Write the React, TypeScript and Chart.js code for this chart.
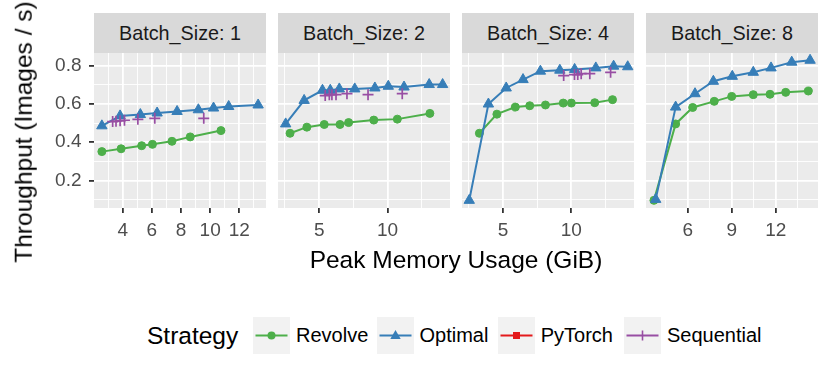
import React, { useEffect, useRef } from "react";
import { Chart, registerables } from "chart.js";
Chart.register(...registerables);

const FONT = '"Liberation Sans", Arial, Helvetica, sans-serif';

// ---------- data ----------
const panelTitles = ["Batch_Size: 1", "Batch_Size: 2", "Batch_Size: 4", "Batch_Size: 8"];
const strategyNames = ["Revolve", "Optimal", "PyTorch", "Sequential"];
const strategyColors = ["#4DAF4A", "#377EB8", "#E41A1C", "#984EA3"];

// Batch size 1
const revolveX1 = [2.57, 3.89, 5.3, 6.04, 7.38, 8.63, 10.74];
const revolveY1 = [0.351, 0.366, 0.382, 0.389, 0.405, 0.428, 0.461];
const optimalX1 = [2.57, 3.82, 5.21, 6.36, 7.73, 9.19, 10.23, 11.27, 13.29];
const optimalY1 = [0.486, 0.538, 0.545, 0.553, 0.561, 0.57, 0.579, 0.587, 0.595];
const sequentialX1 = [3.31, 3.54, 3.82, 4.12, 5.04, 6.2, 9.56];
const sequentialY1 = [0.508, 0.51, 0.512, 0.515, 0.52, 0.525, 0.525];

// Batch size 2
const revolveX2 = [2.87, 4.1, 5.37, 6.52, 7.15, 8.99, 10.71, 13.09];
const revolveY2 = [0.447, 0.479, 0.493, 0.493, 0.503, 0.516, 0.521, 0.551];
const optimalX2 = [2.55, 3.9, 5.24, 5.81, 6.47, 7.6, 9.07, 10.05, 11.2, 13.04, 14.02];
const optimalY2 = [0.496, 0.619, 0.672, 0.672, 0.679, 0.679, 0.684, 0.693, 0.689, 0.702, 0.702];
const sequentialX2 = [5.44, 5.74, 5.93, 6.23, 7.03, 8.57, 11.07];
const sequentialY2 = [0.644, 0.649, 0.649, 0.649, 0.654, 0.649, 0.654];

// Batch size 4
const revolveX4 = [3.28, 4.56, 5.91, 6.96, 8.11, 9.41, 10.0, 11.71, 13.01];
const revolveY4 = [0.447, 0.547, 0.584, 0.591, 0.595, 0.605, 0.605, 0.607, 0.623];
const optimalX4 = [2.54, 3.94, 5.24, 6.47, 7.74, 9.16, 10.24, 11.79, 13.09, 14.12];
const optimalY4 = [0.096, 0.6, 0.684, 0.728, 0.772, 0.777, 0.781, 0.789, 0.798, 0.795];
const sequentialX4 = [9.44, 10.23, 10.47, 10.72, 11.35, 12.87];
const sequentialY4 = [0.749, 0.754, 0.754, 0.759, 0.759, 0.766];

// Batch size 8
const revolveX8 = [3.7, 5.18, 6.34, 7.81, 9.0, 10.47, 11.61, 12.68, 14.22];
const revolveY8 = [0.096, 0.496, 0.582, 0.614, 0.64, 0.649, 0.651, 0.661, 0.668];
const optimalX8 = [3.82, 5.18, 6.5, 7.75, 9.04, 10.47, 11.68, 13.09, 14.34];
const optimalY8 = [0.101, 0.584, 0.654, 0.719, 0.745, 0.766, 0.789, 0.819, 0.829];
const sequentialX8: number[] = [];
const sequentialY8: number[] = [];

// PyTorch: no visible points in any panel
const pytorchX: number[] = [];
const pytorchY: number[] = [];

// ticks
const yMajorTicks = [0.2, 0.4, 0.6, 0.8];
const yMinorTicks = [0.1, 0.3, 0.5, 0.7];
const xMajorTicks = [[4, 6, 8, 10, 12], [5, 10], [5, 10], [6, 9, 12]];
const xMinorTicks = [[3, 5, 7, 9, 11, 13], [2.5, 7.5, 12.5], [2.5, 7.5, 12.5], [4.5, 7.5, 10.5, 13.5]];
const xLimits = [[2.03, 13.83], [1.99, 14.56], [2.01, 14.58], [3.16, 14.88]];
const yLimits = [0.056, 0.867];

const panelSeries = [
  [[revolveX1, revolveY1], [optimalX1, optimalY1], [pytorchX, pytorchY], [sequentialX1, sequentialY1]],
  [[revolveX2, revolveY2], [optimalX2, optimalY2], [pytorchX, pytorchY], [sequentialX2, sequentialY2]],
  [[revolveX4, revolveY4], [optimalX4, optimalY4], [pytorchX, pytorchY], [sequentialX4, sequentialY4]],
  [[revolveX8, revolveY8], [optimalX8, optimalY8], [pytorchX, pytorchY], [sequentialX8, sequentialY8]],
];

// ---------- layout ----------
const panelLefts = [94, 278, 462, 646];
const panelWidth = 172;
const panelTop = 53;
const panelHeight = 155;
const padTop = 25;
const xAxisH = 45;
const padRight = 10;

const pointStyles = ["circle", "triangle", "rect", "cross"];
const pointRadii = [4, 6, 3.8, 5.5];
const drawOrder = [3, 2, 1, 0];

const bgPlugin = {
  id: "panelBg",
  beforeDraw(chart: any) {
    const { ctx, chartArea: a } = chart;
    ctx.save();
    ctx.fillStyle = "#EBEBEB";
    ctx.fillRect(a.left, a.top, a.right - a.left, a.bottom - a.top);
    ctx.restore();
  },
};

function Panel({ index }: { index: number }) {
  const ref = useRef<HTMLCanvasElement>(null);
  const first = index === 0;
  const yW = first ? 94 : 0;
  const padL = first ? 0 : 10;
  const cLeft = panelLefts[index] - yW - padL;
  const cWidth = padL + yW + panelWidth + padRight;
  const cTop = panelTop - padTop;
  const cHeight = padTop + panelHeight + xAxisH;

  useEffect(() => {
    const series = panelSeries[index];
    const xMaj = xMajorTicks[index];
    const xAll = [...xMinorTicks[index], ...xMaj].sort((a, b) => a - b);
    const yAll = [...yMinorTicks, ...yMajorTicks].sort((a, b) => a - b);
    const datasets = series.map(([xs, ys], k) => ({
      label: strategyNames[k],
      data: xs.map((x, i) => ({ x, y: ys[i] })),
      borderColor: strategyColors[k],
      backgroundColor: strategyColors[k],
      pointBackgroundColor: strategyColors[k],
      pointBorderColor: strategyColors[k],
      pointStyle: pointStyles[k],
      pointRadius: pointRadii[k],
      pointBorderWidth: k === 3 ? 1.7 : 1,
      borderWidth: 2,
      showLine: k !== 3,
      order: drawOrder[k],
      clip: false as any,
    }));
    const tickFont = { family: FONT, size: 19 };
    const chart = new Chart(ref.current!, {
      type: "scatter",
      data: { datasets: datasets as any },
      plugins: [bgPlugin],
      options: {
        animation: false,
        responsive: false,
        maintainAspectRatio: false,
        layout: { padding: { top: padTop, left: padL, right: padRight, bottom: 0 } },
        plugins: { legend: { display: false }, tooltip: { enabled: false } },
        scales: {
          x: {
            type: "linear",
            min: xLimits[index][0],
            max: xLimits[index][1],
            afterBuildTicks: (s: any) => {
              s.ticks = xAll.map((v) => ({ value: v }));
            },
            afterFit: (s: any) => {
              s.height = xAxisH;
            },
            ticks: {
              autoSkip: false,
              maxRotation: 0,
              minRotation: 0,
              padding: 6,
              color: "#4D4D4D",
              font: tickFont,
              callback: (v: any) => (xMaj.includes(v) ? String(v) : ""),
            },
            grid: {
              color: "#FFFFFF",
              lineWidth: (c: any) => (c.tick && xMaj.includes(c.tick.value) ? 1.8 : 0.9),
              drawTicks: true,
              tickLength: 5,
              tickWidth: 1.8,
              tickColor: (c: any) => (c.tick && xMaj.includes(c.tick.value) ? "#333333" : "rgba(0,0,0,0)"),
            },
            border: { display: false },
          },
          y: {
            type: "linear",
            min: yLimits[0],
            max: yLimits[1],
            afterBuildTicks: (s: any) => {
              s.ticks = yAll.map((v) => ({ value: v }));
            },
            afterFit: (s: any) => {
              s.width = yW;
            },
            ticks: {
              display: first,
              autoSkip: false,
              padding: 7.5,
              color: "#4D4D4D",
              font: tickFont,
              callback: (v: any) => (yMajorTicks.includes(v) ? String(v) : ""),
            },
            grid: {
              color: "#FFFFFF",
              lineWidth: (c: any) => (c.tick && yMajorTicks.includes(c.tick.value) ? 1.8 : 0.9),
              drawTicks: first,
              tickLength: 5,
              tickWidth: 1.8,
              tickColor: (c: any) => (c.tick && yMajorTicks.includes(c.tick.value) ? "#333333" : "rgba(0,0,0,0)"),
            },
            border: { display: false },
          },
        },
      } as any,
    });
    return () => chart.destroy();
  }, []);

  return (
    <canvas
      ref={ref}
      width={cWidth}
      height={cHeight}
      style={{ position: "absolute", left: cLeft, top: cTop, width: cWidth, height: cHeight }}
    />
  );
}

function LegendKey({ k, left }: { k: number; left: number }) {
  const c = strategyColors[k];
  let marker: any = null;
  if (k === 0) marker = <circle cx={18.5} cy={18.5} r={4} fill={c} />;
  if (k === 1) marker = <polygon points="18.5,13 13.3,22 23.7,22" fill={c} />;
  if (k === 2) marker = <rect x={15} y={15} width={7} height={7} fill={c} />;
  if (k === 3)
    marker = (
      <g stroke={c} strokeWidth={1.6}>
        <line x1={18.5} y1={13.5} x2={18.5} y2={23.5} />
      </g>
    );
  return (
    <svg width={37} height={37} style={{ position: "absolute", left, top: 316.7 }}>
      <rect x={0} y={0} width={37} height={37} fill="#F2F2F2" />
      <line x1={2.5} y1={18.5} x2={34.5} y2={18.5} stroke={c} strokeWidth={1.8} />
      {marker}
    </svg>
  );
}

const legendKeyLefts = [253.3, 377.3, 497.7, 624];
const legendTextLefts = [296, 419.5, 540.7, 667];

export default function App() {
  return (
    <div
      style={{
        position: "fixed",
        left: 0,
        top: 0,
        width: 830,
        height: 381,
        background: "#FFFFFF",
        overflow: "hidden",
        fontFamily: FONT,
      }}
    >
      {panelTitles.map((t, i) => (
        <div
          key={"s" + i}
          style={{
            position: "absolute",
            left: panelLefts[i],
            top: 13,
            width: panelWidth,
            height: 40.3,
            background: "#D9D9D9",
            color: "#1A1A1A",
            fontSize: 19.8,
            lineHeight: "40.3px",
            textAlign: "center",
            whiteSpace: "nowrap",
          }}
        >
          {t}
        </div>
      ))}
      {panelTitles.map((_, i) => (
        <Panel key={"p" + i} index={i} />
      ))}
      <div
        style={{
          position: "absolute",
          left: 24,
          top: 132,
          transform: "translate(-50%, -50%) rotate(-90deg)",
          fontSize: 24.5,
          lineHeight: 1,
          whiteSpace: "nowrap",
          color: "#000000",
        }}
      >
        Throughput (Images / s)
      </div>
      <div
        style={{
          position: "absolute",
          left: 456,
          top: 247.6,
          transform: "translateX(-50%)",
          fontSize: 24.5,
          lineHeight: 1,
          whiteSpace: "nowrap",
          color: "#000000",
        }}
      >
        Peak Memory Usage (GiB)
      </div>
      <div
        style={{
          position: "absolute",
          left: 147,
          top: 316.7,
          height: 37,
          lineHeight: "37px",
          fontSize: 24.5,
          whiteSpace: "nowrap",
          color: "#000000",
        }}
      >
        Strategy
      </div>
      {strategyNames.map((n, k) => (
        <LegendKey key={"k" + k} k={k} left={legendKeyLefts[k]} />
      ))}
      {strategyNames.map((n, k) => (
        <div
          key={"t" + k}
          style={{
            position: "absolute",
            left: legendTextLefts[k],
            top: 316.7,
            height: 37,
            lineHeight: "37px",
            fontSize: 20,
            whiteSpace: "nowrap",
            color: "#000000",
          }}
        >
          {n}
        </div>
      ))}
    </div>
  );
}
